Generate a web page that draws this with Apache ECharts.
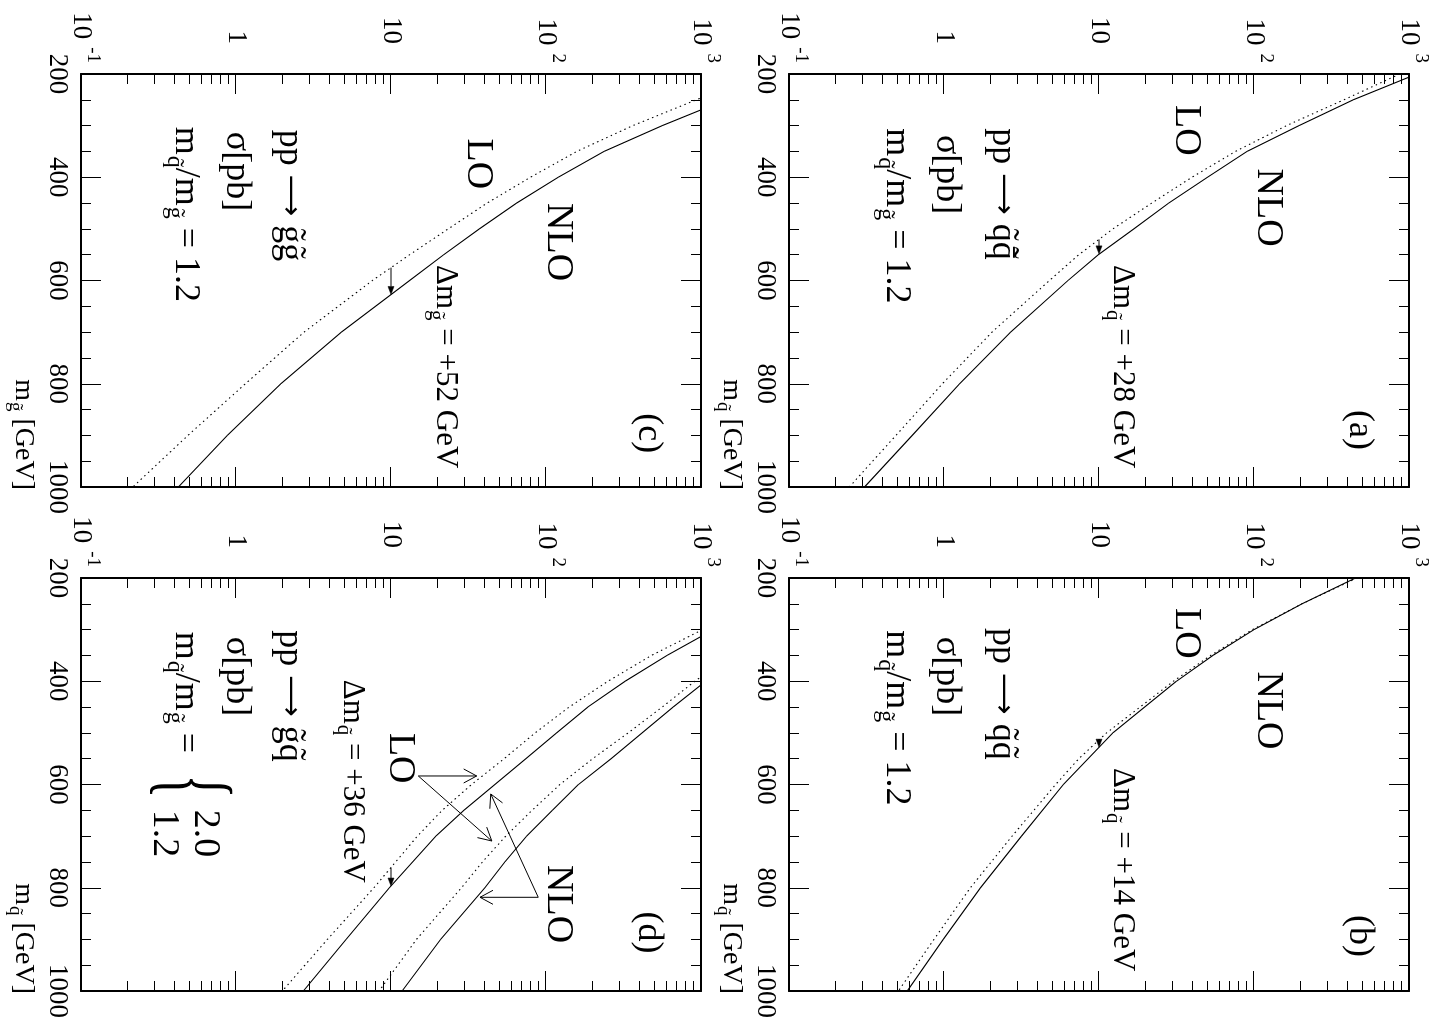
<!DOCTYPE html>
<html>
<head>
<meta charset="utf-8">
<title>Squark and gluino production cross sections</title>
<script src="https://cdn.jsdelivr.net/npm/echarts@6/dist/echarts.min.js"></script>
<style>
  html, body { margin: 0; padding: 0; width: 1438px; height: 1034px; overflow: hidden; background: #fff; }
  /* the figure is laid out upright and turned a quarter turn clockwise */
  #chart { position: absolute; left: 0; top: 0; width: 1034px; height: 1438px;
           transform-origin: 0 0; transform: translate(1438px, 0) rotate(90deg); }
</style>
</head>
<body>
<div id="chart"></div>
<script>
// ---- axis ticks ----
const massTicks = [200, 400, 600, 800, 1000];
const sigmaTicks = [0.1, 1, 10, 100, 1000];
const sigmaTickBase = ['10', '1', '10', '10', '10'];
const sigmaTickExp = ['-1', '', '', '2', '3'];

// ---- (a) pp -> squark antisquark, sigma [pb] ----
const massA = [200, 250, 300, 350, 400, 450, 500, 550, 600, 700, 800, 900, 1000];
const nloA = [1122, 437, 195, 90.2, 50.1, 28.2, 16.8, 9.9, 6.31, 2.69, 1.26, 0.624, 0.307];
const loA = [871, 380, 162, 75.9, 39.8, 21.9, 12.3, 7.41, 4.79, 2.04, 0.977, 0.490, 0.245];

// ---- (b) pp -> squark squark ----
const massB = [200, 250, 300, 350, 400, 450, 500, 550, 600, 700, 800, 900, 1000];
const nloB = [452, 204, 100, 54.3, 31.6, 19.7, 12.3, 8.51, 5.89, 3.16, 1.72, 0.989, 0.579];
const loB = [462, 204, 97.7, 52.5, 30.2, 18.4, 11.2, 7.41, 5.25, 2.75, 1.48, 0.861, 0.508];

// ---- (c) pp -> gluino gluino ----
const massC = [200, 250, 300, 350, 400, 450, 500, 550, 600, 700, 800, 900, 1000];
const nloC = [3981, 1445, 562, 237, 120, 64.6, 37.2, 21.9, 13.2, 4.79, 1.95, 0.881, 0.425];
const loC = [2399, 933, 363, 158, 79.4, 41.7, 23.4, 13.2, 7.59, 2.75, 1.15, 0.490, 0.216];

// ---- (d) pp -> gluino squark, two mass ratios ----
const massD1 = [300, 350, 400, 450, 500, 550, 600, 650, 700, 800, 900, 1000];
const nloD1 = [1202, 603, 324, 186, 117, 74.1, 46.8, 29.5, 19.5, 9.77, 5.13, 2.72];
const loD1 = [1023, 479, 251, 141, 85.1, 53.7, 33.1, 21.4, 14.8, 7.76, 3.89, 1.99];
const massD2 = [350, 400, 450, 500, 550, 600, 650, 700, 750, 800, 900, 1000];
const nloD2 = [1740, 1072, 661, 417, 263, 162, 110, 75.0, 54.3, 40.3, 20.9, 11.8];
const loD2 = [1585, 912, 562, 339, 200, 123, 81.3, 55.0, 38.9, 28.5, 14.6, 8.38];

// mass shift between LO and NLO at sigma = 10 pb (GeV)
const massShift = [28, 14, 52, 36];
const shiftSigma = 10;

// ---- layout ----
const FONT = '"Liberation Serif", "Times New Roman", serif';
const ARROW_FONT = '"DejaVu Sans", sans-serif';
const black = '#000';
const GRID_W = 413, GRID_H = 620;
const gridPos = [[74, 29], [578, 29], [74, 737], [578, 737]];

const panels = [
  { curves: [{ m: massA, nlo: nloA, lo: loA }] },
  { curves: [{ m: massB, nlo: nloB, lo: loB }] },
  { curves: [{ m: massC, nlo: nloC, lo: loC }] },
  { curves: [{ m: massD1, nlo: nloD1, lo: loD1 }, { m: massD2, nlo: nloD2, lo: loD2 }] }
];

// minor ticks of the log axis, 2..9 in every decade (in log10 units)
const minorLog = [];
sigmaTicks.slice(0, -1).forEach(d => { for (let k = 2; k <= 9; k++) minorLog.push(Math.log10(k * d)); });

function sigmaLabel(v) {
  const i = sigmaTicks.findIndex(t => Math.abs(Math.log10(t) - Math.log10(v)) < 1e-6);
  if (i < 0) return '';
  return sigmaTickExp[i]
    ? '{b|' + sigmaTickBase[i] + '}{e|' + sigmaTickExp[i] + '}'
    : '{n|' + sigmaTickBase[i] + '}';
}

const grids = [], xAxes = [], yAxes = [], series = [];
gridPos.forEach(([left, top], g) => {
  grids.push({ left, top, width: GRID_W, height: GRID_H, containLabel: false, outerBoundsMode: 'none' });

  const frame = { show: true, onZero: false, lineStyle: { color: black, width: 2 } };
  const xBase = {
    gridIndex: g, type: 'value', min: 200, max: 1000, interval: 200,
    axisLine: frame,
    axisTick: { show: true, inside: true, length: 20, lineStyle: { color: black, width: 1 } },
    minorTick: { show: true, splitNumber: 4, length: 10, lineStyle: { color: black, width: 1 } },
    splitLine: { show: false }, minorSplitLine: { show: false }
  };
  xAxes.push(Object.assign({}, xBase, {
    position: 'bottom',
    axisLabel: {
      show: true, margin: 10, color: black, fontFamily: FONT, fontSize: 27, hideOverlap: false,
      formatter: v => massTicks.indexOf(v) >= 0 ? String(v) : ''
    }
  }));
  xAxes.push(Object.assign({}, xBase, { position: 'top', axisLabel: { show: false } }));

  const yBase = {
    gridIndex: g, type: 'log', logBase: 10, min: 0.1, max: 1000,
    axisLine: frame,
    axisTick: { show: true, inside: true, length: 20, lineStyle: { color: black, width: 1 } },
    minorTick: { show: false },
    splitLine: { show: false }, minorSplitLine: { show: false }
  };
  yAxes.push(Object.assign({}, yBase, {
    position: 'left',
    axisLabel: {
      show: true, margin: 11, hideOverlap: false, formatter: sigmaLabel,
      rich: {
        b: { fontFamily: FONT, fontSize: 27, color: black },
        n: { fontFamily: FONT, fontSize: 27, color: black, padding: [0, 19, 0, 0] },
        e: { fontFamily: FONT, fontSize: 19, color: black, padding: [0, 0, 24, 8] }
      }
    }
  }));
  yAxes.push(Object.assign({}, yBase, { position: 'right', axisLabel: { show: false } }));

  const yMinor = {
    gridIndex: g, type: 'value', min: -1, max: 3,
    axisLine: { show: false },
    axisTick: { show: true, inside: true, length: 10, customValues: minorLog, lineStyle: { color: black, width: 1 } },
    axisLabel: { show: false },
    splitLine: { show: false }
  };
  yAxes.push(Object.assign({}, yMinor, { position: 'left' }));
  yAxes.push(Object.assign({}, yMinor, { position: 'right' }));
});

function curve(g, m, v, dotted) {
  return {
    type: 'line', xAxisIndex: 2 * g, yAxisIndex: 4 * g,
    data: m.map((x, i) => [x, v[i]]),
    showSymbol: false, symbol: 'none', clip: true, silent: true, z: 3,
    lineStyle: { color: black, width: 1.1, type: dotted ? [1.5, 3.5] : 'solid' }
  };
}
panels.forEach((p, g) => p.curves.forEach(c => {
  series.push(curve(g, c.m, c.nlo, false));
  series.push(curve(g, c.m, c.lo, true));
}));

const chart = echarts.init(document.getElementById('chart'), null, { renderer: 'canvas', width: 1034, height: 1438 });
chart.setOption({
  animation: false,
  backgroundColor: '#fff',
  grid: grids, xAxis: xAxes, yAxis: yAxes, series
});

// ---- annotations ----
const px = (g, m, s) => chart.convertToPixel({ xAxisIndex: 2 * g, yAxisIndex: 4 * g }, [m, s]);

function richFor(F) {
  return {
    t: { fontSize: F, fontFamily: FONT, fill: black, color: black },
    s: { fontSize: Math.round(F * 0.68), fontFamily: FONT, fill: black, color: black,
         padding: [Math.round(F * 0.6), 0, 0, 1] },
    a: { fontSize: Math.round(F * 0.8), fontFamily: ARROW_FONT, fill: black, color: black }
  };
}
function text(x, y, str, size, align) {
  return {
    type: 'text', x, y, z: 50, silent: true,
    style: {
      text: str, fontSize: size, fontFamily: FONT, fill: black,
      align: align || 'left', verticalAlign: 'middle',
      textAlign: align || 'left', textVerticalAlign: 'middle',
      rich: richFor(size)
    }
  };
}
function note(g, m, s, str, size) {
  const p = px(g, m, s);
  return text(p[0], p[1], str, size);
}
function arrow(p0, p1, len, half, open) {
  const dx = p1[0] - p0[0], dy = p1[1] - p0[1], L = Math.hypot(dx, dy);
  const ux = dx / L, uy = dy / L, nx = -uy, ny = ux;
  const b = [p1[0] - ux * len, p1[1] - uy * len];
  const a1 = [b[0] + nx * half, b[1] + ny * half], a2 = [b[0] - nx * half, b[1] - ny * half];
  const out = [{ type: 'line', z: 50, silent: true,
    shape: { x1: p0[0], y1: p0[1], x2: open ? p1[0] : b[0], y2: open ? p1[1] : b[1] },
    style: { stroke: black, lineWidth: 1 } }];
  if (open) out.push({ type: 'polyline', z: 50, silent: true, shape: { points: [a1, p1, a2] },
    style: { stroke: black, fill: null, lineWidth: 1 } });
  else out.push({ type: 'polygon', z: 50, silent: true, shape: { points: [a1, p1, a2] },
    style: { fill: black, stroke: black, lineWidth: 0.5 } });
  return out;
}
// mass where a curve passes a given cross section (log interpolation)
function crossing(m, v, target) {
  const lt = Math.log10(target);
  for (let i = 0; i < m.length - 1; i++) {
    const a = Math.log10(v[i]), b = Math.log10(v[i + 1]);
    if ((a - lt) * (b - lt) <= 0) return m[i] + (m[i + 1] - m[i]) * (a - lt) / (a - b);
  }
  return null;
}

const SQ = 'q\u0303', GL = 'g\u0303';
const proc = pair => '{t|pp }{a|\u27f6}{t| ' + pair + '}';
const notes = [
  { g: 0, nlo: [383, 123], lo: [260, 36.4], proc: [305, 2.39, proc(SQ + 'q\u0303\u0304')],
    sig: [318, 1.04], ratio: [305, 0.49], delta: [570, 14.1, SQ], tag: [851, 479, '(a)'], xname: SQ, shiftCurve: 0 },
  { g: 1, nlo: [381, 123], lo: [258, 36.4], proc: [297, 2.39, proc(SQ + SQ)],
    sig: [314, 1.04], ratio: [301, 0.49], delta: [568, 14.1, SQ], tag: [853, 479, '(b)'], xname: SQ, shiftCurve: 0 },
  { g: 2, nlo: [450, 119], lo: [325, 36.4], proc: [308, 2.21, proc(GL + GL)],
    sig: [312, 1.01], ratio: [302, 0.47], delta: [570, 22.3, GL], tag: [857, 455, '(c)'], xname: GL, shiftCurve: 0 },
  { g: 3, nlo: [756, 119], lo: [500, 11.4], proc: [301, 2.21, proc(GL + SQ)],
    sig: [314, 1.01], ratio: null, delta: [397, 5.65, SQ], tag: [846, 455, '(d)'], xname: SQ, shiftCurve: 0 }
];

const G = [];
notes.forEach(n => {
  const g = n.g;
  G.push(note(g, n.nlo[0], n.nlo[1], 'NLO', 38));
  G.push(note(g, n.lo[0], n.lo[1], 'LO', 38));
  G.push(note(g, n.proc[0], n.proc[1], n.proc[2], 36));
  G.push(note(g, n.sig[0], n.sig[1], '\u03c3[pb]', 36));
  if (n.ratio) G.push(note(g, n.ratio[0], n.ratio[1], '{t|m}{s|' + SQ + '}{t|/m}{s|' + GL + '}{t| = 1.2}', 36));
  G.push(note(g, n.delta[0], n.delta[1],
    '{t|\u0394m}{s|' + n.delta[2] + '}{t| = +' + massShift[g] + ' GeV}', 31));
  G.push(note(g, n.tag[0], n.tag[1], n.tag[2], 36));

  // axis title under the mass axis, ending at the last tick
  const end = px(g, 1000, 0.1);
  G.push(text(end[0] + 3, end[1] + 58, '{t|m}{s|' + n.xname + '}{t| [GeV]}', 28, 'right'));

  // LO -> NLO mass shift arrow at sigma = 10 pb
  const c = panels[g].curves[n.shiftCurve];
  const m0 = crossing(c.m, c.lo, shiftSigma);
  arrow(px(g, m0, shiftSigma), px(g, m0 + massShift[g], shiftSigma), 8, 3, false).forEach(e => G.push(e));
});

// panel (d): mass-ratio legend and pointer arrows
G.push(note(3, 304, 0.47, '{t|m}{s|' + SQ + '}{t|/m}{s|' + GL + '}{t| =}', 36));
(function () {
  const p = px(3, 604, 0.5);
  G.push({ type: 'text', x: p[0], y: p[1], scaleX: 0.5, z: 50, silent: true,
    style: { text: '{', fontSize: 100, fontFamily: FONT, fill: black,
             align: 'center', verticalAlign: 'middle', textAlign: 'center', textVerticalAlign: 'middle' } });
})();
G.push(note(3, 649, 0.635, '2.0', 38));
G.push(note(3, 649, 0.345, '1.2', 38));

const loFrom = px(3, 583.5, 15.0);
arrow(loFrom, px(3, 583.5, 35.7), 13, 7, true).forEach(e => G.push(e));
arrow(loFrom, px(3, 709.4, 44.7), 13, 7, true).forEach(e => G.push(e));
const nloFrom = px(3, 818.5, 89.1);
arrow(nloFrom, px(3, 818.5, 37.5), 13, 7, true).forEach(e => G.push(e));
arrow(nloFrom, px(3, 618.4, 44.0), 13, 7, true).forEach(e => G.push(e));

chart.setOption({ graphic: { elements: G } });
</script>
</body>
</html>
